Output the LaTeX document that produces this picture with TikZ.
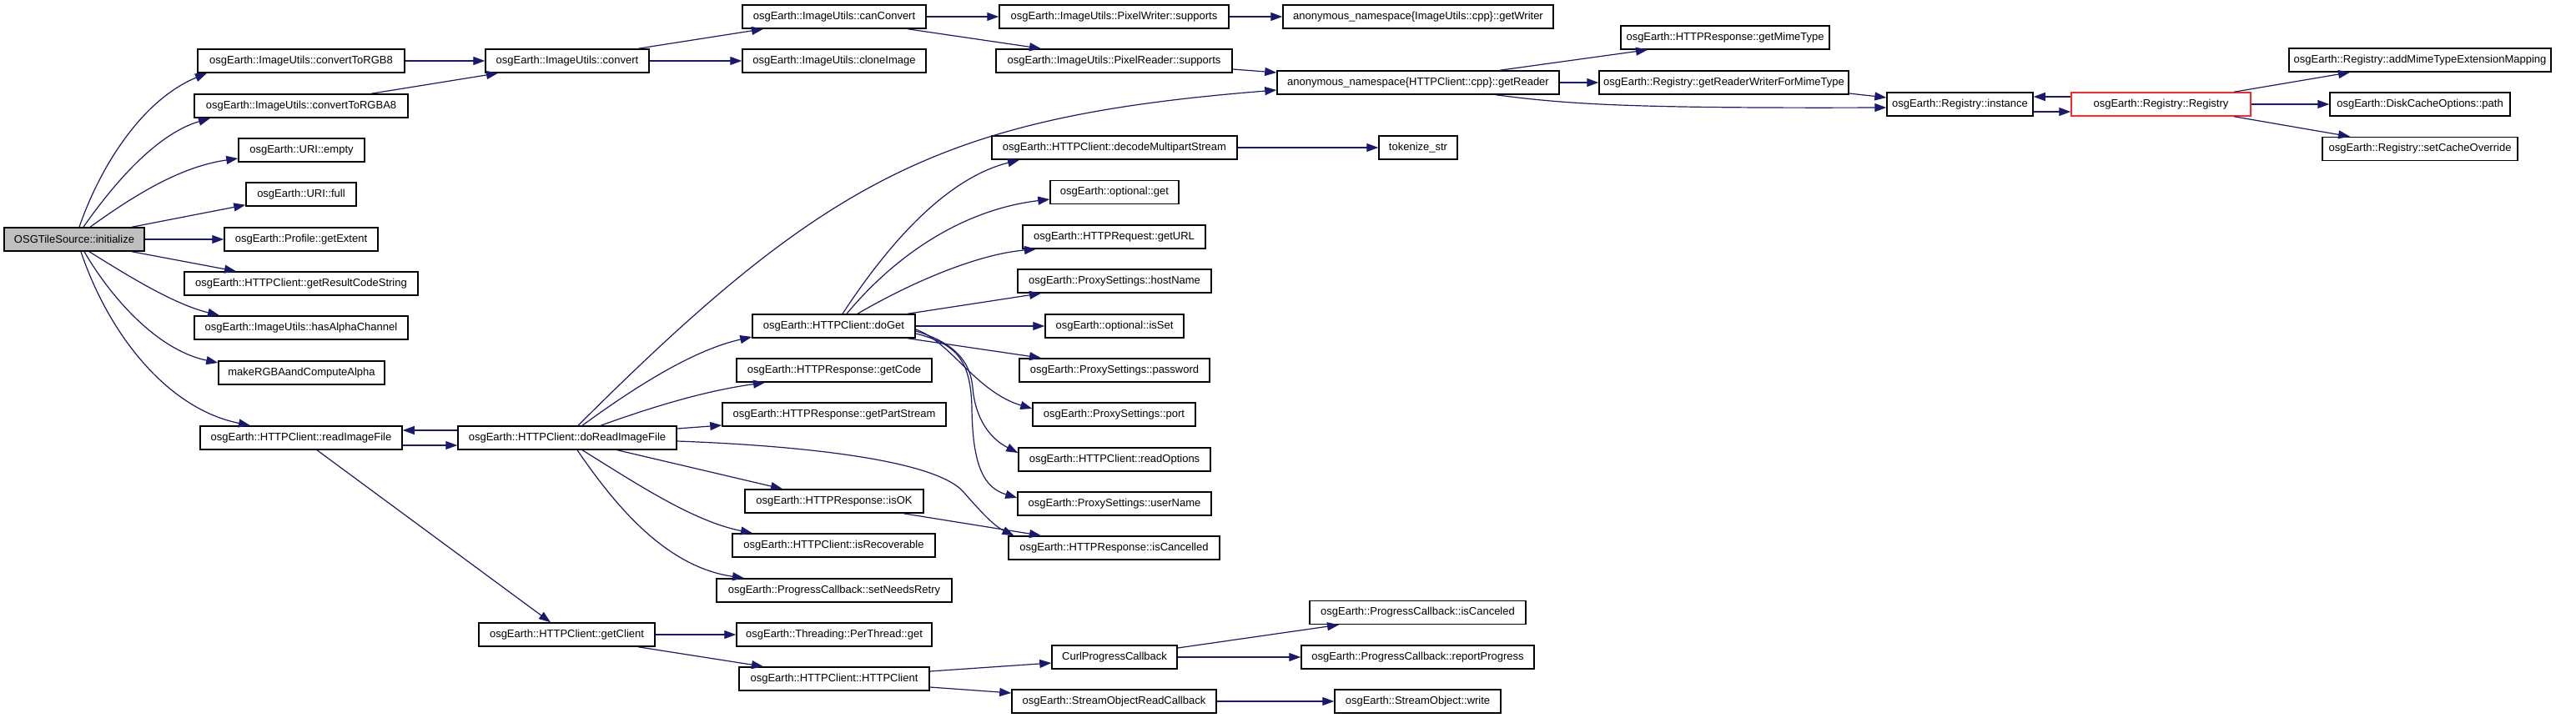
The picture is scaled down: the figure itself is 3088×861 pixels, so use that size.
\documentclass[tikz,border=0pt]{standalone}
\usepackage{fontspec}
\setmainfont{Liberation Sans}
\usetikzlibrary{arrows.meta}
\definecolor{edgeblue}{RGB}{25,25,112}
\definecolor{nodegray}{RGB}{191,191,191}
\definecolor{nodered}{RGB}{255,40,40}
\begin{document}
\begin{tikzpicture}[x=1pt,y=-1pt,
  fn/.style={draw=black, line width=1.5pt, fill=white, minimum height=28pt, inner sep=0pt,
             font=\fontsize{13}{15}\selectfont, text=black},
  call/.style={draw=edgeblue, line width=1.2pt, -{Triangle[length=14pt,width=10pt]}},
]
\useasboundingbox[fill=white] (0,0) rectangle (3088,861);

% ---- nodes ----
\node[fn, fill=nodegray, minimum width=168pt] (init) at (89,287) {OSGTileSource::initialize};
\node[fn, minimum width=248pt] (rgb8) at (361,73) {osgEarth::ImageUtils::convertToRGB8};
\node[fn, minimum width=256pt] (rgba8) at (361,127) {osgEarth::ImageUtils::convertToRGBA8};
\node[fn, minimum width=151pt] (empty) at (361.5,180) {osgEarth::URI::empty};
\node[fn, minimum width=132pt] (full) at (361,233) {osgEarth::URI::full};
\node[fn, minimum width=184pt] (extent) at (361,287) {osgEarth::Profile::getExtent};
\node[fn, minimum width=280pt] (rcs) at (361,340) {osgEarth::HTTPClient::getResultCodeString};
\node[fn, minimum width=256pt] (alpha) at (361,393) {osgEarth::ImageUtils::hasAlphaChannel};
\node[fn, minimum width=199pt] (makergba) at (361.5,447) {makeRGBAandComputeAlpha};
\node[fn, minimum width=242pt] (readimg) at (361,525) {osgEarth::HTTPClient::readImageFile};

\node[fn, minimum width=196pt] (convert) at (680,73) {osgEarth::ImageUtils::convert};
\node[fn, minimum width=262pt] (doread) at (680,525) {osgEarth::HTTPClient::doReadImageFile};
\node[fn, minimum width=211pt] (getclient) at (679.5,761) {osgEarth::HTTPClient::getClient};

\node[fn, minimum width=220pt] (canconv) at (1000,20) {osgEarth::ImageUtils::canConvert};
\node[fn, minimum width=220pt] (clone) at (1000,73) {osgEarth::ImageUtils::cloneImage};
\node[fn, minimum width=195pt] (doget) at (999.5,391) {osgEarth::HTTPClient::doGet};
\node[fn, minimum width=234pt] (getcode) at (1000,444) {osgEarth::HTTPResponse::getCode};
\node[fn, minimum width=268pt] (partstream) at (1000,497) {osgEarth::HTTPResponse::getPartStream};
\node[fn, minimum width=214pt] (isok) at (1000,601) {osgEarth::HTTPResponse::isOK};
\node[fn, minimum width=243pt] (isrec) at (999.5,654) {osgEarth::HTTPClient::isRecoverable};
\node[fn, minimum width=282pt] (retry) at (1000,708) {osgEarth::ProgressCallback::setNeedsRetry};
\node[fn, minimum width=234pt] (perthread) at (1000,761) {osgEarth::Threading::PerThread::get};
\node[fn, minimum width=228pt] (httpclient) at (1000,814) {osgEarth::HTTPClient::HTTPClient};

\node[fn, minimum width=275pt] (pwriter) at (1335.5,20) {osgEarth::ImageUtils::PixelWriter::supports};
\node[fn, minimum width=283pt] (preader) at (1335.5,73) {osgEarth::ImageUtils::PixelReader::supports};
\node[fn, minimum width=294pt] (decode) at (1336,177) {osgEarth::HTTPClient::decodeMultipartStream};
\node[fn, minimum width=154pt] (optget) at (1336,230.5) {osgEarth::optional::get};
\node[fn, minimum width=219pt] (geturl) at (1335.5,284) {osgEarth::HTTPRequest::getURL};
\node[fn, minimum width=232pt] (hostname) at (1336,337) {osgEarth::ProxySettings::hostName};
\node[fn, minimum width=166pt] (isset) at (1336,391) {osgEarth::optional::isSet};
\node[fn, minimum width=228pt] (password) at (1336,444) {osgEarth::ProxySettings::password};
\node[fn, minimum width=195pt] (port) at (1335.5,497) {osgEarth::ProxySettings::port};
\node[fn, minimum width=230pt] (readopt) at (1336,551) {osgEarth::HTTPClient::readOptions};
\node[fn, minimum width=232pt] (username) at (1336,604) {osgEarth::ProxySettings::userName};
\node[fn, minimum width=253pt] (iscancelled) at (1335.5,657) {osgEarth::HTTPResponse::isCancelled};
\node[fn, minimum width=150pt] (curl) at (1336,788) {CurlProgressCallback};
\node[fn, minimum width=245pt] (sorc) at (1335.5,841) {osgEarth::StreamObjectReadCallback};

\node[fn, minimum width=324pt] (getwriter) at (1700,20) {anonymous\_namespace\{ImageUtils::cpp\}::getWriter};
\node[fn, minimum width=338pt] (getreader) at (1700,99) {anonymous\_namespace\{HTTPClient::cpp\}::getReader};
\node[fn, minimum width=94pt] (tokenize) at (1700,177) {tokenize\_str};
\node[fn, minimum width=259pt] (iscanceled) at (1699.5,734.5) {osgEarth::ProgressCallback::isCanceled};
\node[fn, minimum width=279pt] (report) at (1699.5,788) {osgEarth::ProgressCallback::reportProgress};
\node[fn, minimum width=199pt] (write) at (1699.5,841) {osgEarth::StreamObject::write};

\node[fn, minimum width=250pt] (mime) at (2068,45) {osgEarth::HTTPResponse::getMimeType};
\node[fn, minimum width=299pt] (rwmime) at (2066.5,99) {osgEarth::Registry::getReaderWriterForMimeType};
\node[fn, minimum width=175pt] (instance) at (2349.5,125) {osgEarth::Registry::instance};
\node[fn, draw=nodered, minimum width=215pt] (registry) at (2590.5,125) {osgEarth::Registry::Registry};
\node[fn, minimum width=314pt] (addmime) at (2901,72) {osgEarth::Registry::addMimeTypeExtensionMapping};
\node[fn, minimum width=216pt] (path) at (2901,125) {osgEarth::DiskCacheOptions::path};
\node[fn, minimum width=234pt] (setcache) at (2901,178.5) {osgEarth::Registry::setCacheOverride};

% ---- edges from initialize ----
\draw[call] ([xshift=6pt]init.north) .. controls (120,200) and (170,120) .. ([xshift=-113pt]rgb8.south);
\draw[call] ([xshift=11pt]init.north) .. controls (140,215) and (190,160) .. ([xshift=-109pt]rgba8.south);
\draw[call] ([xshift=19pt]init.north) .. controls (160,235) and (215,200) .. ([yshift=-10pt]empty.west);
\draw[call] ([xshift=69pt]init.north) -- ([yshift=2pt]full.south west);
\draw[call] (init.east) -- (extent.west);
\draw[call] ([xshift=69pt]init.south) -- ([xshift=-78pt]rcs.north);
\draw[call] ([xshift=18pt]init.south) .. controls (160,335) and (210,365) .. ([xshift=-98pt]alpha.north);
\draw[call] ([xshift=12pt]init.south) .. controls (135,360) and (190,420) .. ([yshift=12pt]makergba.west);
\draw[call] ([xshift=8pt]init.south) .. controls (130,400) and (200,490) .. ([xshift=-61pt]readimg.north);

% ---- convert chain ----
\draw[call] (rgb8.east) -- (convert.west);
\draw[call] ([xshift=84pt]rgba8.north) -- ([xshift=-83pt]convert.south);
\draw[call] ([xshift=85pt]convert.north) -- ([xshift=-85pt]canconv.south);
\draw[call] (convert.east) -- (clone.west);
\draw[call] (canconv.east) -- (pwriter.west);
\draw[call] ([xshift=88pt]canconv.south) -- ([xshift=-87.5pt]preader.north);
\draw[call] (pwriter.east) -- (getwriter.west);
\draw[call] ([yshift=-10pt]preader.east) -- ([yshift=12pt]getreader.west);

% ---- getReader / Registry ----
\draw[call] ([xshift=13pt]doread.north) .. controls (993,211) and (1131,140) .. ([yshift=-9pt]getreader.west);
\draw[call] ([xshift=98pt]getreader.north) -- ([xshift=-93pt]mime.south);
\draw[call] (getreader.east) -- (rwmime.west);
\draw[call] ([xshift=93pt]getreader.south) .. controls (1880,125) and (1950,130) .. ([yshift=-4pt]instance.west);
\draw[call] ([yshift=-13pt]rwmime.east) -- ([yshift=8pt]instance.west);
\draw[call] ([yshift=-9pt]instance.east) -- ([yshift=-9pt]registry.west);
\draw[call] ([yshift=9pt]registry.west) -- ([yshift=9pt]instance.east);
\draw[call] ([xshift=87.5pt]registry.north) -- ([xshift=-84pt]addmime.south);
\draw[call] (registry.east) -- (path.west);
\draw[call] ([xshift=87.5pt]registry.south) -- ([xshift=-84pt]setcache.north);

% ---- readImageFile / doReadImageFile ----
\draw[call] ([yshift=9pt]doread.west) -- ([yshift=9pt]readimg.east);
\draw[call] ([yshift=-9pt]readimg.east) -- ([yshift=-9pt]doread.west);
\draw[call] ([xshift=19pt]readimg.south) -- ([xshift=-19.5pt]getclient.north);
\draw[call] ([xshift=18pt]doread.north) .. controls (760,465) and (830,420) .. ([yshift=-13pt]doget.west);
\draw[call] ([xshift=40pt]doread.north) .. controls (790,485) and (850,468) .. ([xshift=-83pt]getcode.south);
\draw[call] ([yshift=11pt]doread.east) -- ([yshift=-13pt]partstream.west);
\draw[call] ([yshift=-4pt]doread.east) .. controls (950,534) and (1120,550) .. (1155,590)
            .. controls (1170,607) and (1190,630) .. ([xshift=-120pt]iscancelled.north);
\draw[call] ([xshift=60pt]doread.south) -- ([xshift=-62pt]isok.north);
\draw[call] ([xshift=18pt]doread.south) .. controls (760,578) and (830,625) .. ([xshift=-97.5pt]isrec.north);
\draw[call] ([xshift=12pt]doread.south) .. controls (740,610) and (800,680) .. ([xshift=-108pt]retry.north);

% ---- doGet ----
\draw[call] ([xshift=10.5pt]doget.north) .. controls (1060,300) and (1130,215) .. ([xshift=-114pt]decode.south);
\draw[call] ([xshift=15.5pt]doget.north) .. controls (1070,310) and (1150,252) .. ([yshift=-8.5pt]optget.west);
\draw[call] ([xshift=28.5pt]doget.north) .. controls (1090,340) and (1170,305) .. ([xshift=-93.5pt]geturl.south);
\draw[call] ([xshift=88.5pt]doget.north) -- ([xshift=-88pt]hostname.south);
\draw[call] (doget.east) -- (isset.west);
\draw[call] ([xshift=88.5pt]doget.south) -- ([xshift=-88pt]password.north);
\draw[call] ([yshift=-4pt]doget.east) .. controls (1140,410) and (1170,470) .. ([yshift=7pt]port.west);
\draw[call] ([yshift=-6pt]doget.east) .. controls (1140,410) and (1163,430) .. (1166,465)
            .. controls (1169,500) and (1185,525) .. ([yshift=8pt]readopt.west);
\draw[call] ([yshift=-9pt]doget.east) .. controls (1145,412) and (1164,430) .. (1165,490)
            .. controls (1166,560) and (1180,585) .. ([yshift=7pt]username.west);
\draw[call] (decode.east) -- (tokenize.west);
\draw[call] ([xshift=83pt]isok.south) -- ([xshift=-87.5pt]iscancelled.north);

% ---- getClient ----
\draw[call] (getclient.east) -- (perthread.west);
\draw[call] ([xshift=85.5pt]getclient.south) -- ([xshift=-85pt]httpclient.north);
\draw[call] ([yshift=9pt]httpclient.east) -- ([yshift=-7pt]curl.west);
\draw[call] ([yshift=-10pt]httpclient.east) -- ([yshift=10pt]sorc.west);
\draw[call] ([yshift=11pt]curl.east) -- ([xshift=-94.5pt]iscanceled.south);
\draw[call] (curl.east) -- (report.west);
\draw[call] (sorc.east) -- (write.west);
\end{tikzpicture}
\end{document}
